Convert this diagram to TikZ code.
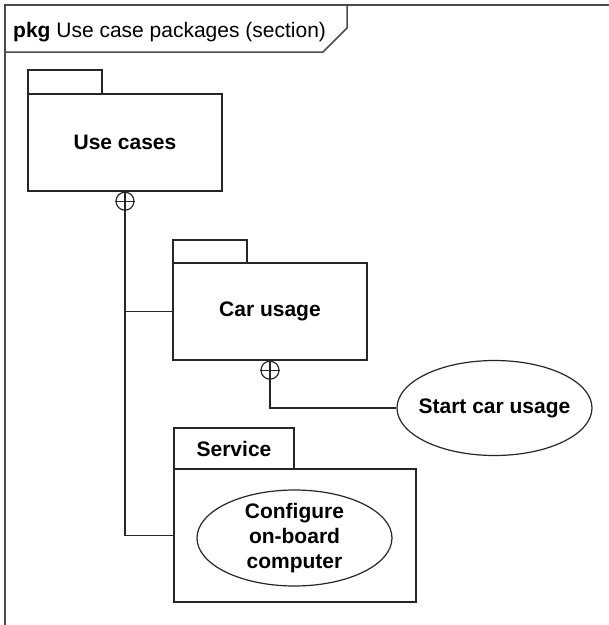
\documentclass[tikz,border=0pt]{standalone}
\usepackage{fontspec}
\setmainfont{Liberation Sans}
\usetikzlibrary{shapes.geometric,calc}
\tikzset{
  ln/.style={draw=black!85, line width=1.2pt},
  pkgbody/.style={ln, rectangle, inner sep=0pt, font=\bfseries\fontsize{21}{25}\selectfont},
  pkgtab/.style={ln, rectangle, inner sep=0pt, font=\bfseries\fontsize{21}{25}\selectfont},
  ucase/.style={ln, ellipse, inner sep=0pt, align=center, font=\bfseries\fontsize{21}{25}\selectfont},
  nest/.style={ln, circle, inner sep=0pt, minimum size=18pt},
  framel/.style={draw=black!70, line width=1.5pt}
}
\begin{document}
\begin{tikzpicture}[x=1pt,y=-1pt]
\useasboundingbox (0,0) rectangle (609,625);
% frame
\coordinate (ftl) at (5,5);
\coordinate (ftr) at (609,5);
\coordinate (fbl) at (5,625);
\coordinate (tabA) at (5,52);
\coordinate (tabB) at (323,52);
\coordinate (tabC) at (347,28);
\coordinate (tabD) at (347,5);
\draw[framel] (fbl) -- (ftl) -- (ftr);
\draw[framel] (tabA) -- (tabB) -- (tabC) -- (tabD);
\node[anchor=base west, inner sep=0pt, font=\fontsize{21}{25}\selectfont] (title) at (13,37) {\textbf{pkg} Use case packages (section)};
% Use cases package
\node[pkgtab, minimum width=74pt, minimum height=24pt] (uctab) at (65,82) {};
\node[pkgbody, minimum width=194pt, minimum height=97pt] (uc) at (125,142.5) {Use cases};
% Car usage package
\node[pkgtab, minimum width=74pt, minimum height=23pt] (cutab) at (210,251.5) {};
\node[pkgbody, minimum width=194pt, minimum height=97pt] (cu) at (270,311.5) {Car usage};
% Service package
\node[pkgtab, minimum width=120pt, minimum height=41pt] (svtab) at (234,448.5) {Service};
\node[pkgbody, minimum width=242pt, minimum height=133pt] (sv) at (295,535.5) {};
\node[ucase, inner ysep=-1pt, minimum width=195pt, minimum height=96pt] (cfg) at (294.5,538) {Configure\\on-board\\computer};
% Start car usage
\node[ucase, inner xsep=-8.5pt, minimum width=195pt, minimum height=95pt] (scu) at (494.5,408) {Start car usage};
% nesting circles
\node[nest, anchor=north] (ucn) at (uc.south) {};
\node[nest, anchor=north] (cun) at (cu.south) {};
\draw[ln] (ucn.west) -- (ucn.east) (ucn.north) -- (ucn.south);
\draw[ln] (cun.west) -- (cun.east) (cun.north) -- (cun.south);
% connectors
\coordinate (j1) at (ucn.south |- cu.west);
\coordinate (j2) at (ucn.south |- sv.west);
\coordinate (j3) at (cun.south |- scu.west);
\draw[ln] (ucn.south) -- (j2) -- (sv.west);
\draw[ln] (j1) -- (cu.west);
\draw[ln] (cun.south) -- (j3) -- (scu.west);
\end{tikzpicture}
\end{document}
